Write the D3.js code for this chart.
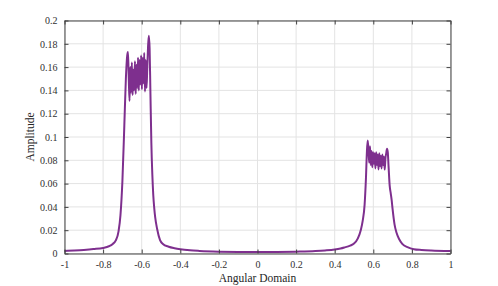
<!DOCTYPE html>
<html>
<head>
<meta charset="utf-8">
<script src="https://cdn.jsdelivr.net/npm/d3@7"></script>
<style>
  body { margin: 0; background: #fff; }
  svg { display: block; font-family: "Liberation Serif", "Times New Roman", serif; }
</style>
</head>
<body>
<svg id="chart" width="498" height="286"></svg>
<script>
// values
const angle = [
  -1.00, -0.95, -0.90, -0.85, -0.80, -0.77, -0.75, -0.735, -0.72, -0.71, -0.70, -0.69, -0.682, -0.675, -0.671,
  -0.667, -0.663, -0.659, -0.655, -0.651, -0.647, -0.643, -0.639, -0.635, -0.631, -0.627, -0.623, -0.619, -0.615,
  -0.611, -0.607, -0.603, -0.599, -0.595, -0.591, -0.587, -0.583, -0.579, -0.575, -0.571, -0.567, -0.563, -0.559,
  -0.555, -0.550, -0.545, -0.540, -0.535, -0.53, -0.52, -0.505, -0.49, -0.46, -0.43, -0.40, -0.35, -0.30, -0.20, -0.10,
  0.00, 0.10, 0.20, 0.30, 0.35, 0.40, 0.43, 0.45, 0.48, 0.50, 0.52, 0.535, 0.545, 0.555, 0.562, 0.567, 0.571,
  0.575, 0.579, 0.583, 0.587, 0.591, 0.595, 0.599, 0.603, 0.607, 0.611, 0.615, 0.619, 0.623, 0.627, 0.631, 0.635,
  0.639, 0.643, 0.647, 0.651, 0.655, 0.659, 0.663, 0.667, 0.671, 0.675, 0.679, 0.685, 0.69, 0.695, 0.70, 0.71,
  0.72, 0.735, 0.75, 0.78, 0.81, 0.85, 0.90, 1.00
]
const amplitude = [
  0.0022, 0.0026, 0.0031, 0.0038, 0.0048, 0.0062, 0.0082, 0.011, 0.019, 0.033, 0.062, 0.11, 0.150, 0.170, 0.173,
  0.150, 0.131, 0.160, 0.138, 0.164, 0.136, 0.158, 0.140, 0.165, 0.137, 0.162, 0.142, 0.168, 0.140,
  0.166, 0.145, 0.170, 0.141, 0.168, 0.146, 0.172, 0.139, 0.166, 0.142, 0.160, 0.178, 0.187, 0.176,
  0.140, 0.095, 0.068, 0.050, 0.039, 0.031, 0.021, 0.0115, 0.0082, 0.0058, 0.0045, 0.0036, 0.0027, 0.0022, 0.0016, 0.0013,
  0.0012, 0.0013, 0.0016, 0.0021, 0.0026, 0.0034, 0.0043, 0.0052, 0.0068, 0.0085, 0.013, 0.020, 0.028, 0.042, 0.065, 0.088, 0.097,
  0.088, 0.078, 0.092, 0.076, 0.088, 0.074, 0.087, 0.077, 0.086, 0.073, 0.087, 0.076, 0.085, 0.072, 0.086, 0.075,
  0.084, 0.073, 0.085, 0.076, 0.083, 0.072, 0.082, 0.086, 0.090, 0.087, 0.075, 0.058, 0.052, 0.046, 0.038, 0.025,
  0.018, 0.012, 0.0082, 0.0052, 0.0037, 0.0030, 0.0025, 0.0021
]
const xTicks = [-1, -0.8, -0.6, -0.4, -0.2, 0, 0.2, 0.4, 0.6, 0.8, 1]
const yTicks = [0, 0.02, 0.04, 0.06, 0.08, 0.1, 0.12, 0.14, 0.16, 0.18, 0.2]

const mLeft = 64.5, mRight = 450.5, mTop = 20.5, mBottom = 253.5
const axisColor = '#404040'
const svg = d3.select('#chart')

const x = d3.scaleLinear().domain([-1, 1]).range([mLeft, mRight])
const y = d3.scaleLinear().domain([0, 0.2]).range([mBottom, mTop])

// grid
const grid = svg.append('g')
grid.selectAll('.gx').data(xTicks).enter().append('line')
  .attr('x1', d => x(d)).attr('x2', d => x(d)).attr('y1', mTop).attr('y2', mBottom)
  .attr('stroke', '#e3e3e3').attr('stroke-width', 1)
grid.selectAll('.gy').data(yTicks).enter().append('line')
  .attr('y1', d => y(d)).attr('y2', d => y(d)).attr('x1', mLeft).attr('x2', mRight)
  .attr('stroke', '#e3e3e3').attr('stroke-width', 1)

// curve
const pts = angle.map((a, i) => [a, amplitude[i]])
svg.append('path')
  .datum(pts)
  .attr('d', d3.line().curve(d3.curveMonotoneX).x(d => x(d[0])).y(d => y(d[1])))
  .attr('fill', 'none')
  .attr('stroke', '#7e2f8e')
  .attr('stroke-width', 2)
  .attr('stroke-linejoin', 'round')

// axes, ticks pointing inward, box on
const fmt = d => String(d)   // plain hyphen like the reference
const styleAxis = g => {
  g.select('.domain').attr('stroke', axisColor)
  g.selectAll('.tick line').attr('stroke', axisColor)
  g.selectAll('.tick text').attr('fill', '#303030').style('font-size', '10px')
    .style('font-family', '"Liberation Serif", "Times New Roman", serif')
}
svg.append('g').attr('transform', `translate(0,${mBottom})`)
  .call(d3.axisBottom(x).tickValues(xTicks).tickFormat(fmt).tickSizeInner(-4).tickSizeOuter(0).tickPadding(7))
  .call(styleAxis)
svg.append('g').attr('transform', `translate(${mLeft},0)`)
  .call(d3.axisLeft(y).tickValues(yTicks).tickFormat(fmt).tickSizeInner(-4).tickSizeOuter(0).tickPadding(7))
  .call(styleAxis)
svg.append('g').attr('transform', `translate(0,${mTop})`)
  .call(d3.axisTop(x).tickValues(xTicks).tickFormat('').tickSizeInner(-4).tickSizeOuter(0))
  .call(styleAxis)
svg.append('g').attr('transform', `translate(${mRight},0)`)
  .call(d3.axisRight(y).tickValues(yTicks).tickFormat('').tickSizeInner(-4).tickSizeOuter(0))
  .call(styleAxis)

// labels
svg.append('text')
  .attr('x', (mLeft + mRight) / 2).attr('y', 282)
  .attr('text-anchor', 'middle').attr('fill', '#262626')
  .style('font-size', '11.5px').text('Angular Domain')
svg.append('text')
  .attr('transform', `translate(34,${(mTop + mBottom) / 2}) rotate(-90)`)
  .attr('text-anchor', 'middle').attr('fill', '#262626')
  .style('font-size', '11.5px').text('Amplitude')
</script>
</body>
</html>
